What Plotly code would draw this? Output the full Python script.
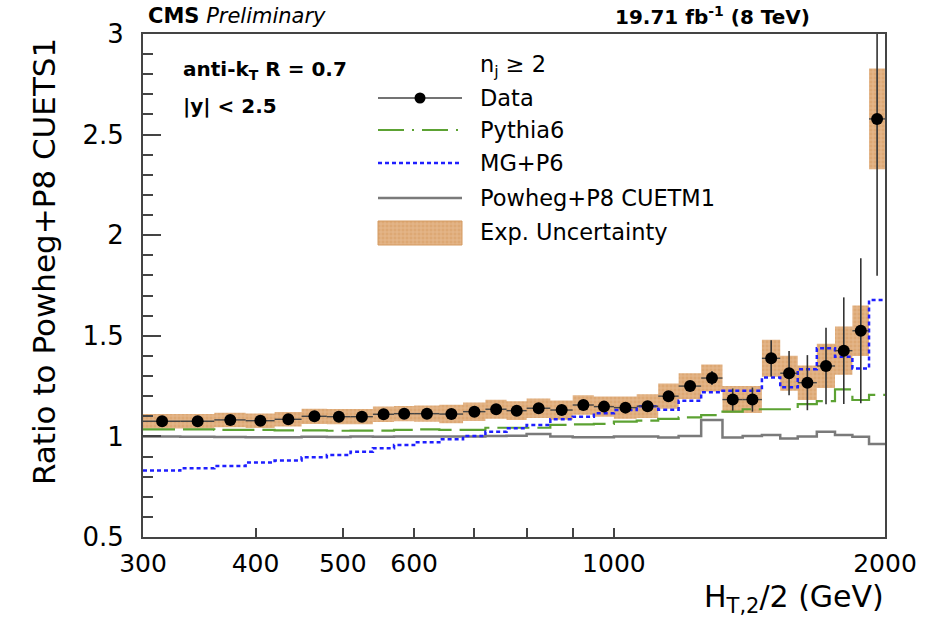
import plotly.graph_objects as go
import math

# ---------------- data ----------------
bin_edges = [300, 330, 360, 390, 420, 450, 480, 510, 540, 570, 600, 640, 680, 720,
             760, 800, 850, 900, 950, 1000, 1060, 1120, 1180, 1250, 1320, 1390,
             1460, 1530, 1600, 1680, 1760, 1840, 1920, 2000]

data_ratio = [1.075, 1.075, 1.082, 1.078, 1.085, 1.100, 1.098, 1.098, 1.110, 1.113,
              1.113, 1.111, 1.123, 1.135, 1.128, 1.140, 1.131, 1.156, 1.148, 1.143,
              1.150, 1.200, 1.250, 1.290, 1.183, 1.183, 1.388, 1.314, 1.267, 1.350,
              1.426, 1.525, 2.578]

data_stat = [0.003, 0.003, 0.003, 0.003, 0.003, 0.003, 0.004, 0.004, 0.004, 0.004,
             0.005, 0.005, 0.005, 0.006, 0.006, 0.006, 0.007, 0.008, 0.009, 0.010,
             0.012, 0.015, 0.025, 0.035, 0.055, 0.060, 0.090, 0.110, 0.137, 0.190,
             0.265, 0.360, 0.780]

exp_unc = [0.036, 0.036, 0.036, 0.036, 0.036, 0.038, 0.038, 0.038, 0.038, 0.038,
           0.040, 0.046, 0.046, 0.047, 0.047, 0.048, 0.048, 0.049, 0.050, 0.055,
           0.059, 0.063, 0.064, 0.067, 0.067, 0.067, 0.092, 0.087, 0.086, 0.110,
           0.120, 0.126, 0.250]

pythia6 = [1.035, 1.035, 1.032, 1.032, 1.030, 1.030, 1.028, 1.029, 1.029, 1.032,
           1.035, 1.032, 1.032, 1.043, 1.043, 1.043, 1.057, 1.060, 1.062, 1.073,
           1.078, 1.087, 1.095, 1.106, 1.123, 1.135, 1.135, 1.135, 1.160, 1.175,
           1.234, 1.181, 1.206]

mg_p6 = [0.830, 0.842, 0.853, 0.870, 0.880, 0.896, 0.908, 0.924, 0.941, 0.957,
         0.971, 0.986, 1.002, 1.023, 1.040, 1.057, 1.085, 1.098, 1.115, 1.131,
         1.150, 1.133, 1.177, 1.219, 1.227, 1.227, 1.293, 1.244, 1.334, 1.438,
         1.396, 1.338, 1.678]

powheg_cuetm1 = [1.000, 0.998, 0.997, 0.996, 0.996, 0.998, 0.997, 0.999, 0.998, 1.000,
                 0.999, 1.000, 1.000, 1.002, 1.003, 1.012, 1.000, 0.996, 0.996, 1.000,
                 1.000, 0.994, 1.002, 1.081, 0.994, 1.002, 1.007, 0.990, 1.000, 1.023,
                 1.007, 0.998, 0.962]

x_tick_vals = [300, 400, 500, 600, 1000, 2000]
x_tick_text = ["300", "400", "500", "600", "1000", "2000"]
x_minor_vals = [700, 800, 900]
y_tick_vals = [0.5, 1, 1.5, 2, 2.5, 3]
y_tick_text = ["0.5", "1", "1.5", "2", "2.5", "3"]

# ---------------- styles ----------------
FONT = "DejaVu Sans"
C_GREEN = "#5ca233"
C_BLUE = "#1f1fff"
C_GRAY = "#7a7a7a"
C_FRAME = "#444444"
BOX_BG = "#dda874"
BOX_FG = "#f3dcc4"

# plot area in pixels
L, R, T, B = 143, 885, 34, 537
W, H = 934, 617


def px(x):
    return (x - L) / (R - L)


def py(y):
    return (B - y) / (B - T)


lo = bin_edges[:-1]
hi = bin_edges[1:]
centers = [(a + b) / 2 for a, b in zip(lo, hi)]

fig = go.Figure()

# experimental uncertainty boxes
bx, by = [], []
for a, b, c, e in zip(lo, hi, data_ratio, exp_unc):
    bx += [a, b, b, a, a, None]
    by += [c - e, c - e, c + e, c + e, c - e, None]
pattern = dict(shape="+", fgcolor=BOX_FG, bgcolor=BOX_BG, size=4, solidity=0.25)
fig.add_trace(go.Scatter(x=bx, y=by, mode="lines", fill="toself", line=dict(width=0),
                         fillcolor=BOX_BG, fillpattern=pattern, hoverinfo="skip",
                         name="Exp. Uncertainty"))


def step(vals, color, dash, width, name):
    fig.add_trace(go.Scatter(x=bin_edges, y=vals + [vals[-1]], mode="lines",
                             line=dict(shape="hv", color=color, dash=dash, width=width),
                             name=name))


step(powheg_cuetm1, C_GRAY, "solid", 2.5, "Powheg+P8 CUETM1")
step(pythia6, C_GREEN, "32px,8px", 2.2, "Pythia6")
step(mg_p6, C_BLUE, "4px,3px", 2.5, "MG+P6")

# data
fig.add_trace(go.Scatter(
    x=centers, y=data_ratio, mode="markers", name="Data",
    marker=dict(color="black", size=12, symbol="circle"),
    error_y=dict(type="data", array=data_stat, color="#333333", thickness=1.6, width=0),
    error_x=dict(type="data", array=[b - c for b, c in zip(hi, centers)],
                 arrayminus=[c - a for a, c in zip(lo, centers)],
                 color="#444444", thickness=1.4, width=0),
))

# ---------------- legend keys (overlay axes in pixel units) ----------------
kx0, kx1 = 378, 462
leg_rows = {"Data": 98, "Pythia6": 130, "MG+P6": 163, "Powheg+P8 CUETM1": 198,
            "Exp. Uncertainty": 232}
ov = dict(xaxis="x2", yaxis="y2", hoverinfo="skip", showlegend=False)
fig.add_trace(go.Scatter(x=[kx0, kx1], y=[98, 98], mode="lines",
                         line=dict(color="#444444", width=1.5), **ov))
fig.add_trace(go.Scatter(x=[(kx0 + kx1) / 2], y=[98], mode="markers",
                         marker=dict(color="black", size=11), **ov))
fig.add_trace(go.Scatter(x=[kx0, kx1], y=[130, 130], mode="lines",
                         line=dict(color=C_GREEN, width=2.2, dash="26px,8px,2px,8px"), **ov))
fig.add_trace(go.Scatter(x=[kx0, kx1], y=[163, 163], mode="lines",
                         line=dict(color=C_BLUE, width=2.5, dash="4px,3px"), **ov))
fig.add_trace(go.Scatter(x=[kx0, kx1], y=[198, 198], mode="lines",
                         line=dict(color=C_GRAY, width=2.5), **ov))
fig.add_trace(go.Scatter(x=[kx0, kx1, kx1, kx0, kx0], y=[221, 221, 245, 245, 221],
                         mode="lines", fill="toself", line=dict(width=1, color="#d49a60"),
                         fillcolor=BOX_BG, fillpattern=pattern, **ov))

annotations = []


def txt(x, y, text, size, xanchor="left", angle=0):
    annotations.append(dict(x=px(x), y=py(y), xref="paper", yref="paper", text=text,
                            showarrow=False, xanchor=xanchor, yanchor="middle",
                            textangle=angle,
                            font=dict(family=FONT, size=size, color="black")))


txt(478, 66, "n<sub>j</sub> ≥ 2", 22.5)
for label, yy in leg_rows.items():
    txt(478, yy, label, 22.5)

txt(146, 16, "<b>CMS</b> <i>Preliminary</i>", 21)
txt(812, 16, "<b>19.71 fb<sup>-1</sup> (8 TeV)</b>", 20, xanchor="right")
txt(181, 70, "<b>anti-k<sub>T</sub> R = 0.7</b>", 20)
txt(181, 106, "<b>|y| &lt; 2.5</b>", 20)
txt(44, 262, "Ratio to Powheg+P8 CUETS1", 31, xanchor="center", angle=-90)
txt(886, 598, "H<sub>T,2</sub>/2 (GeV)", 30, xanchor="right")

fig.update_layout(
    width=W, height=H,
    margin=dict(l=L, r=W - R, t=T, b=H - B, pad=0),
    paper_bgcolor="white", plot_bgcolor="white",
    showlegend=False,
    annotations=annotations,
    xaxis=dict(type="log", range=[math.log10(300), math.log10(2000)],
               tickmode="array", tickvals=x_tick_vals, ticktext=x_tick_text,
               ticks="inside", ticklen=9, tickwidth=1.5, tickcolor=C_FRAME,
               showline=True, mirror=True, linecolor=C_FRAME, linewidth=2,
               showgrid=False, zeroline=False, ticklabelstandoff=3,
               tickfont=dict(family=FONT, size=25, color="black"),
               minor=dict(tickmode="array", tickvals=x_minor_vals, ticks="inside",
                          ticklen=9, tickwidth=1.5, tickcolor=C_FRAME, showgrid=False)),
    yaxis=dict(range=[0.5, 3], tickmode="array", tickvals=y_tick_vals, ticktext=y_tick_text,
               ticks="inside", ticklen=18, tickwidth=1.5, tickcolor=C_FRAME,
               showline=True, mirror=True, linecolor=C_FRAME, linewidth=2,
               showgrid=False, zeroline=False, ticklabelstandoff=12,
               tickfont=dict(family=FONT, size=26, color="black"),
               minor=dict(tickmode="linear", tick0=0.5, dtick=0.1, ticks="inside",
                          ticklen=10, tickwidth=1.5, tickcolor=C_FRAME, showgrid=False)),
    xaxis2=dict(range=[L, R], overlaying="x", visible=False, fixedrange=True),
    yaxis2=dict(range=[B, T], overlaying="y", visible=False, fixedrange=True),
)

fig.write_html("out.html")
